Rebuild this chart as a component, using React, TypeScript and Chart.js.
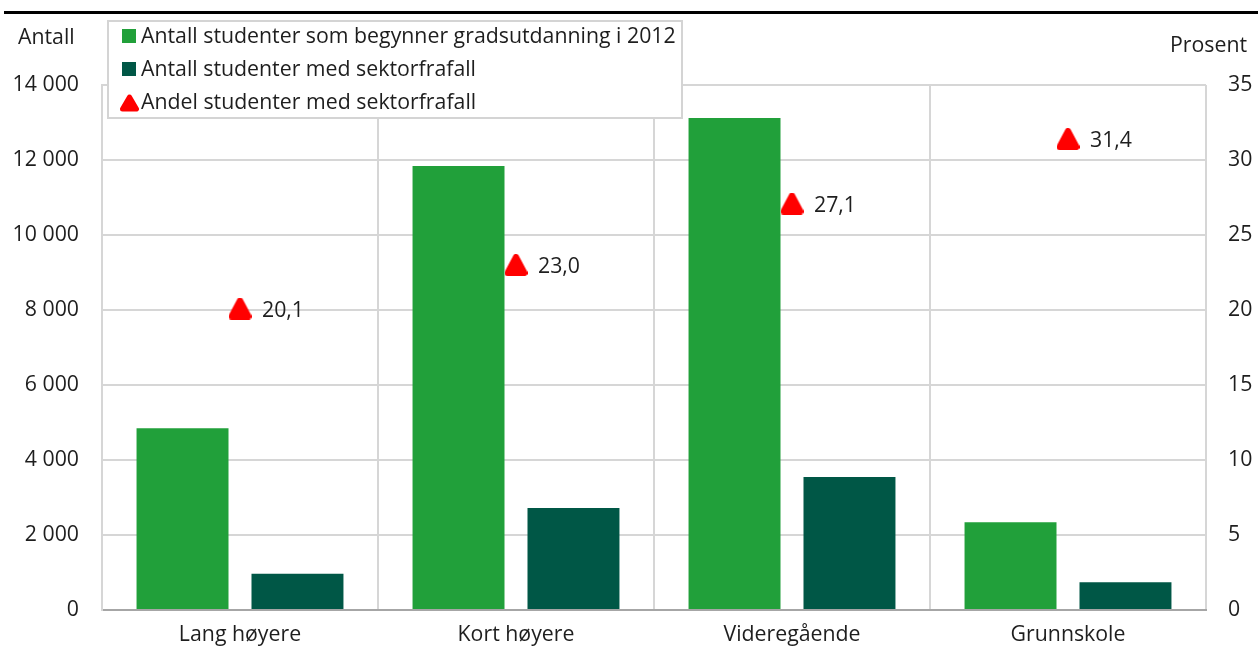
import React, { useEffect, useRef } from "react";
import { Chart, registerables } from "chart.js";

Chart.register(...registerables);

const categories = ["Lang høyere", "Kort høyere", "Videregående", "Grunnskole"];
const startedStudents = [4850, 11840, 13120, 2340];
const dropoutStudents = [970, 2720, 3550, 740];
const dropoutShare = [20.1, 23.0, 27.1, 31.4];
const leftTicksMax = 14000;
const rightTicksMax = 35;

const legendLabels = [
  "Antall studenter som begynner gradsutdanning i 2012",
  "Antall studenter med sektorfrafall",
  "Andel studenter med sektorfrafall",
];

const GREEN = "#21a03a";
const DARK = "#005746";
const RED = "#ff0000";
const FONT = "'Open Sans', sans-serif";
const TEXT = "#1e1e1e";
const FS = 21.3;

function makeTriangle(w: number, h: number, r: number): HTMLCanvasElement {
  const c = document.createElement("canvas");
  c.width = w;
  c.height = h;
  const ctx = c.getContext("2d")!;
  ctx.fillStyle = RED;
  ctx.strokeStyle = RED;
  ctx.lineJoin = "round";
  ctx.lineWidth = r * 2;
  ctx.beginPath();
  ctx.moveTo(w / 2, r);
  ctx.lineTo(w - r, h - r);
  ctx.lineTo(r, h - r);
  ctx.closePath();
  ctx.fill();
  ctx.stroke();
  return c;
}

const fmtThousands = (v: number) =>
  String(v).replace(/\B(?=(\d{3})+(?!\d))/g, " ");

const valueLabels = {
  id: "valueLabels",
  afterDatasetsDraw(chart: any) {
    const meta = chart.getDatasetMeta(2);
    const ctx = chart.ctx;
    ctx.save();
    ctx.font = `${FS}px ${FONT}`;
    ctx.fillStyle = TEXT;
    ctx.textAlign = "left";
    ctx.textBaseline = "middle";
    meta.data.forEach((pt: any, i: number) => {
      const v = dropoutShare[i].toFixed(1).replace(".", ",");
      ctx.fillText(v, pt.x + 22, pt.y + 2);
    });
    ctx.restore();
  },
};

export default function App() {
  const ref = useRef<HTMLCanvasElement | null>(null);

  useEffect(() => {
    if (!ref.current) return;
    const tri = makeTriangle(23, 22, 3);
    const chart = new Chart(ref.current, {
      type: "bar",
      data: {
        labels: categories,
        datasets: [
          {
            type: "bar",
            label: legendLabels[0],
            data: startedStudents,
            backgroundColor: GREEN,
            yAxisID: "y",
            categoryPercentage: 0.833,
            barPercentage: 0.8,
            order: 1,
          },
          {
            type: "bar",
            label: legendLabels[1],
            data: dropoutStudents,
            backgroundColor: DARK,
            yAxisID: "y",
            categoryPercentage: 0.833,
            barPercentage: 0.8,
            order: 1,
          },
          {
            type: "line",
            label: legendLabels[2],
            data: dropoutShare,
            yAxisID: "y1",
            showLine: false,
            pointStyle: tri as any,
            pointRadius: 11,
            backgroundColor: RED,
            borderColor: RED,
            order: -1,
          } as any,
        ],
      },
      options: {
        responsive: false,
        animation: false,
        layout: { padding: { top: 85, left: 0, right: 0, bottom: 0 } },
        plugins: {
          legend: { display: false },
          tooltip: { enabled: false },
          title: { display: false },
        },
        scales: {
          x: {
            offset: true,
            grid: {
              offset: true,
              color: "#d6d6d6",
              lineWidth: 2,
              drawTicks: false,
            },
            border: { color: "#a6a6a6", width: 2 },
            ticks: {
              color: TEXT,
              font: { family: FONT, size: FS },
              padding: 12,
            },
            afterFit(scale: any) {
              scale.height = 53;
            },
          },
          y: {
            position: "left",
            min: 0,
            max: leftTicksMax,
            grid: { color: "#d6d6d6", lineWidth: 2, drawTicks: false },
            border: { color: "#d6d6d6", width: 2 },
            ticks: {
              stepSize: 2000,
              color: TEXT,
              font: { family: FONT, size: FS },
              padding: 23,
              callback: (v: any) => fmtThousands(Number(v)),
            },
            afterFit(scale: any) {
              scale.width = 102;
            },
          },
          y1: {
            position: "right",
            min: 0,
            max: rightTicksMax,
            grid: { drawOnChartArea: false, drawTicks: false },
            border: { display: false },
            ticks: {
              stepSize: 5,
              color: TEXT,
              font: { family: FONT, size: FS },
              padding: 22,
            },
            afterFit(scale: any) {
              scale.width = 52;
            },
          },
        },
      },
      plugins: [valueLabels],
    });
    return () => chart.destroy();
  }, []);

  const textStyle: React.CSSProperties = {
    position: "absolute",
    fontFamily: FONT,
    fontSize: FS,
    color: TEXT,
    whiteSpace: "nowrap",
    lineHeight: "24px",
  };

  return (
    <div
      style={{
        position: "absolute",
        left: 0,
        top: 0,
        width: 1258,
        height: 663,
        background: "#fff",
        overflow: "hidden",
      }}
    >
      <canvas ref={ref} width={1258} height={663} style={{ display: "block" }} />
      <div
        style={{
          position: "absolute",
          left: 4,
          top: 11,
          width: 1254,
          height: 3,
          background: "#000",
        }}
      />
      <div style={{ ...textStyle, left: 18, top: 24 }}>Antall</div>
      <div style={{ ...textStyle, left: 1170, top: 32 }}>Prosent</div>
      <div
        style={{
          position: "absolute",
          left: 107,
          top: 20,
          width: 572,
          height: 95,
          border: "2px solid #d4d4d4",
          background: "#fff",
        }}
      >
        <div
          style={{
            position: "absolute",
            left: 13,
            top: 7,
            width: 14,
            height: 14,
            background: GREEN,
          }}
        />
        <div style={{ ...textStyle, left: 32, top: 1 }}>{legendLabels[0]}</div>
        <div
          style={{
            position: "absolute",
            left: 13,
            top: 40,
            width: 14,
            height: 14,
            background: DARK,
          }}
        />
        <div style={{ ...textStyle, left: 32, top: 34 }}>{legendLabels[1]}</div>
        <svg
          style={{ position: "absolute", left: 11, top: 72 }}
          width={19}
          height={18}
          viewBox="0 0 19 18"
        >
          <path
            d="M9.5 3 L16.5 15 L2.5 15 Z"
            fill={RED}
            stroke={RED}
            strokeWidth={5}
            strokeLinejoin="round"
          />
        </svg>
        <div style={{ ...textStyle, left: 32, top: 67 }}>{legendLabels[2]}</div>
      </div>
    </div>
  );
}
